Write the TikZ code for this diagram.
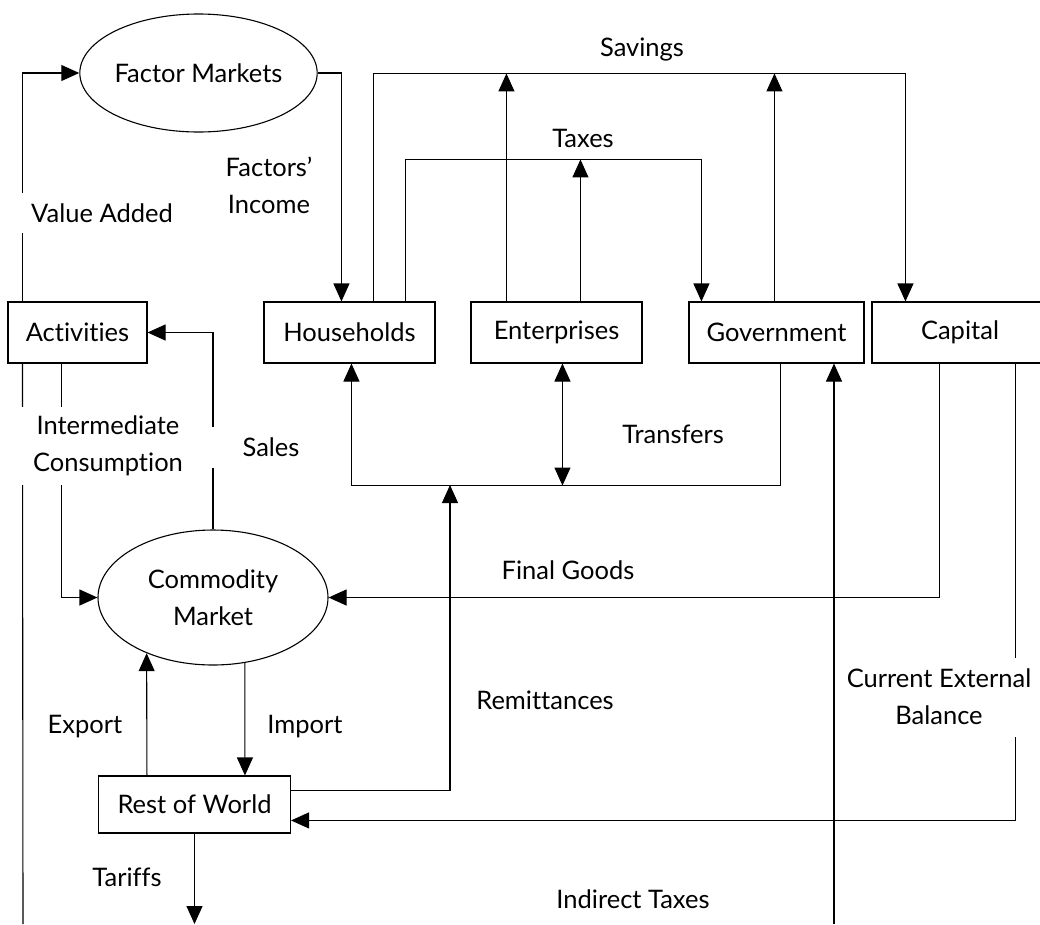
\documentclass[tikz,border=0pt]{standalone}
\usepackage{fontspec}
\setmainfont{Lato}[Ligatures=NoCommon]
\usetikzlibrary{arrows.meta,shapes.geometric}

\tikzset{
	acct/.style={draw, rectangle, minimum height=61pt, inner sep=0pt},
	mkt/.style={draw, ellipse, inner sep=0pt, align=center},
	lbl/.style={align=center, inner sep=0pt},
	cut/.style={lbl, fill=white}
}

\begin{document}
\begin{tikzpicture}[x=1pt, y=-1pt, line width=1.1pt,
		>={Triangle[length=18pt,width=16pt]},
		font=\fontsize{25.5}{37}\selectfont]
		\useasboundingbox (0,0) rectangle (1040,924);
		%
		\node[mkt, minimum width=219pt, minimum height=118pt] (FM) at (198.5,73) {Factor Markets};
		\node[mkt, minimum width=230pt, minimum height=135pt] (CM) at (213,597.5) {Commodity\\Market};
		\node[acct, minimum width=139pt] (Act) at (77.5,332.5) {Activities};
		\node[acct, minimum width=171pt] (HH) at (349.5,332.5) {Households};
		\node[acct, minimum width=171pt] (Ent) at (556.5,332.5) {Enterprises};
		\node[acct, minimum width=175pt] (Gov) at (776.5,332.5) {Government};
		\node[acct, minimum width=176pt] (Cap) at (960,332.5) {Capital};
		\node[acct, minimum width=192pt, minimum height=57pt] (RoW) at (194.5,804.5) {Rest of World};
		%
		\coordinate (rem) at (450,485);
		\coordinate (lb) at (23,924);
		\coordinate (tar) at (194.5,924);
		\coordinate (itx) at (834,924);
		%
		\draw[->] ([xshift=15pt]Act.north west) |- (FM.west);
		\draw ([xshift=15pt]Act.south west) -- (lb);
		\draw[->] (FM.east) -| ([xshift=78pt]HH.north west);
		\draw[->] ([xshift=110pt]HH.north west) -- ++(0,-228) -| ([xshift=34pt]Cap.north west);
		\draw[->] ([xshift=36pt]Ent.north west) -- ++(0,-228);
		\draw[->] ([xshift=86pt]Gov.north west) -- ++(0,-228);
		\draw[->] ([xshift=142pt]HH.north west) -- ++(0,-142) -| ([xshift=13pt]Gov.north west);
		\draw[->] ([xshift=110pt]Ent.north west) -- ++(0,-142);
		\draw[->] ([xshift=92pt]Gov.south west) -- ++(0,122) -| ([xshift=88pt]HH.south west);
		\draw[<->] ([xshift=92pt]Ent.south west) -- ++(0,122);
		\draw[->] ([yshift=-15pt]RoW.north east) -| (rem);
		\draw[->] ([xshift=68pt]Cap.south west) |- (CM.east);
		\draw[->] ([xshift=144pt]Cap.south west) |- ([yshift=-45pt]RoW.north east);
		\draw[->] (itx) -- (itx |- Gov.south);
		\draw[->] (CM.north) |- (Act.east);
		\draw[->] ([xshift=54pt]Act.south west) |- (CM.west);
		\draw[->] ([xshift=49pt]RoW.north west) -- (CM.-140);
		\draw[->] (CM.-64) -- ([xshift=147pt]RoW.north west);
		\draw[->] (RoW.south) -- (RoW.south |- tar);
		%
		\node[cut, inner xsep=13pt, minimum height=40pt] (va) at (102,213) {Value Added};
		\node[lbl] (fi) at (269,185) {Factors’\\Income};
		\node[lbl] (sav) at (642,50) {Savings};
		\node[lbl] (tax) at (583,138) {Taxes};
		\node[lbl] (trf) at (673,434) {Transfers};
		\node[cut, inner xsep=14pt, minimum height=78pt] (ic) at (108,446) {Intermediate\\Consumption};
		\node[cut, minimum width=130pt, minimum height=41pt] (sal) at (271,447) {Sales};
		\node[lbl] (fg) at (568,570) {Final Goods};
		\node[lbl] (rm) at (545,700) {Remittances};
		\node[cut, minimum height=79pt] (ceb) at (939,697) {Current External\\Balance};
		\node[lbl] (ex) at (85,727) {Export};
		\node[lbl] (im) at (305,727) {Import};
		\node[lbl] (tf) at (127,877) {Tariffs};
		\node[lbl] (it) at (633,899) {Indirect Taxes};
\end{tikzpicture}
\end{document}
